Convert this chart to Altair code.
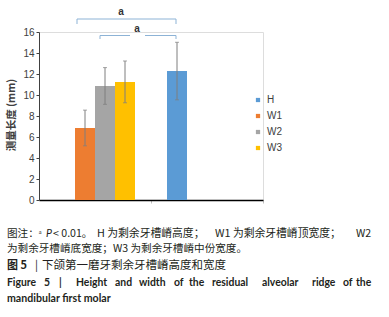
import altair as alt
import pandas as pd

series = ["H", "W1", "W2", "W3"]
groups = ["H", "W", "W", "W"]
means = [12.28, 6.86, 10.86, 11.25]
sds = [2.74, 1.70, 1.75, 1.99]
colors = ["#5B9BD5", "#ED7D31", "#A5A5A5", "#FFC000"]
y_ticks = [0, 2, 4, 6, 8, 10, 12, 14, 16]

y_title = "测量长度 (mm)"
sig_label = "a"

# caption pieces (text, x, y, size, weight, style, font)
LAT = "Lato, Noto Sans CJK SC"
CJK = "Noto Sans CJK SC"
caption_pieces = [
    ("图注：ᵃ", -32, 201.5, 10.6, "normal", "normal", CJK),
    ("P", 7, 201.5, 10.6, "normal", "italic", LAT),
    ("< 0.01。", 14, 201.5, 10.6, "normal", "normal", CJK),
    ("H 为剩余牙槽嵴高度；", 58, 201.5, 10.8, "normal", "normal", CJK),
    ("W1 为剩余牙槽嵴顶宽度；", 176, 201.5, 10.8, "normal", "normal", CJK),
    ("W2", 317, 201.5, 10.6, "normal", "normal", CJK),
    ("为剩余牙槽嵴底宽度；W3 为剩余牙槽嵴中份宽度。", -32, 216.5, 10.6, "normal", "normal", CJK),
    ("图 5", -32, 234, 11, "bold", "normal", CJK),
    ("|", -4, 234, 11, "normal", "normal", CJK),
    ("下颌第一磨牙剩余牙槽嵴高度和宽度", 3, 234, 11.5, "normal", "normal", CJK),
    ("Figure", -32, 250.5, 10.4, "bold", "normal", LAT),
    ("5", 5, 250.5, 10.4, "bold", "normal", LAT),
    ("|", 20, 250.5, 10.4, "bold", "normal", LAT),
    ("Height", 37, 250.5, 10.4, "bold", "normal", LAT),
    ("and", 76, 250.5, 10.4, "bold", "normal", LAT),
    ("width", 100, 250.5, 10.4, "bold", "normal", LAT),
    ("of", 135, 250.5, 10.4, "bold", "normal", LAT),
    ("the", 150, 250.5, 10.4, "bold", "normal", LAT),
    ("residual", 173, 250.5, 10.4, "bold", "normal", LAT),
    ("alveolar", 223, 250.5, 10.4, "bold", "normal", LAT),
    ("ridge", 273, 250.5, 10.4, "bold", "normal", LAT),
    ("of", 304, 250.5, 10.4, "bold", "normal", LAT),
    ("the", 317, 250.5, 10.4, "bold", "normal", LAT),
    ("mandibular first molar", -32, 266.5, 10.6, "bold", "normal", LAT),
]

df = pd.DataFrame({
    "series": series,
    "group": groups,
    "mean": means,
    "lo": [m - s for m, s in zip(means, sds)],
    "hi": [m + s for m, s in zip(means, sds)],
})

W, H = 224, 168
xs = alt.X("group:N", scale=alt.Scale(domain=["W", "H"], paddingInner=0, paddingOuter=0),
           axis=alt.Axis(labels=False, title=None, domainColor="black", domainWidth=1.5,
                         ticks=True, tickColor="#bfbfbf", tickSize=3, bandPosition=1))
xo = alt.XOffset("series:N", scale=alt.Scale(domain=series, paddingInner=0, paddingOuter=0.8))
ys = alt.Scale(domain=[0, 16], nice=False)
yaxis = alt.Axis(values=y_ticks, grid=False, labelFontSize=10, title=None,
                 labelColor="#404040", labelFont="Liberation Sans", tickSize=3,
                 tickColor="#404040", domainColor="#404040", labelPadding=2,
                 labelOverlap=False, labelFlush=False)

base = alt.Chart(df)

bars = base.mark_bar().encode(
    x=xs, xOffset=xo,
    y=alt.Y("mean:Q", scale=ys, axis=yaxis),
    color=alt.Color("series:N", scale=alt.Scale(domain=series, range=colors),
                    legend=alt.Legend(title=None, orient="none", legendX=214, legendY=63,
                                      symbolType="square", symbolSize=18, labelFontSize=10,
                                      labelFont="Liberation Sans", labelColor="#404040",
                                      labelOffset=4, rowPadding=6, padding=0,
                                      symbolStrokeWidth=0)),
)

err = base.mark_rule(color="#7f7f7f", strokeWidth=1).encode(
    x=xs, xOffset=xo, y=alt.Y("lo:Q", scale=ys, axis=yaxis), y2="hi:Q")
cap_hi = base.mark_tick(color="#7f7f7f", thickness=1, size=4).encode(
    x=xs, xOffset=xo, y=alt.Y("hi:Q", scale=ys, axis=yaxis))
cap_lo = base.mark_tick(color="#7f7f7f", thickness=1, size=4).encode(
    x=xs, xOffset=xo, y=alt.Y("lo:Q", scale=ys, axis=yaxis))

one = alt.Chart(pd.DataFrame({"d": [0]}))
bc = "#8db3d6"
def seg(x1, x2, y1, y2):
    return one.mark_rule(color=bc, strokeWidth=1).encode(
        x=alt.value(x1), x2=alt.value(x2), y=alt.value(y1), y2=alt.value(y2))

brackets = [
    seg(38, 137, -13, -13), seg(38, 38, -13, -8), seg(137, 137, -13, -8),
    seg(61, 91, 3.5, 3.5), seg(106, 137, 3.5, 3.5), seg(61, 61, 3.5, 7), seg(137, 137, 3.5, 7),
]
labels_a = [
    one.mark_text(text=sig_label, fontSize=10, fontWeight="bold", color="#333333",
                  font="Liberation Sans", baseline="middle").encode(
        x=alt.value(82), y=alt.value(-20)),
    one.mark_text(text=sig_label, fontSize=10, fontWeight="bold", color="#333333",
                  font="Liberation Sans", baseline="middle").encode(
        x=alt.value(98), y=alt.value(-3)),
]

ytitle = one.mark_text(text=y_title, fontSize=10.5, angle=270, color="#404040",
                       font="Noto Sans CJK SC", fontWeight="bold", baseline="middle").encode(
    x=alt.value(-27), y=alt.value(83))

captions = []
for txt, xx, yy, fs, fw, fst, fnt in caption_pieces:
    captions.append(one.mark_text(text=txt, align="left", baseline="middle", font=fnt,
                                  fontSize=fs, fontWeight=fw, fontStyle=fst,
                                  color="#231f20").encode(
        x=alt.value(xx), y=alt.value(yy)))

chart = alt.layer(bars, err, cap_hi, cap_lo, *brackets, *labels_a, ytitle, *captions).properties(
    width=W, height=H,
    autosize=alt.AutoSizeParams(type="none"),
    padding={"left": 39, "top": 32, "right": 126, "bottom": 117},
).configure_view(stroke=None).configure(background="white")

chart.save("out.html", embed_options={"renderer": "svg", "actions": False})
